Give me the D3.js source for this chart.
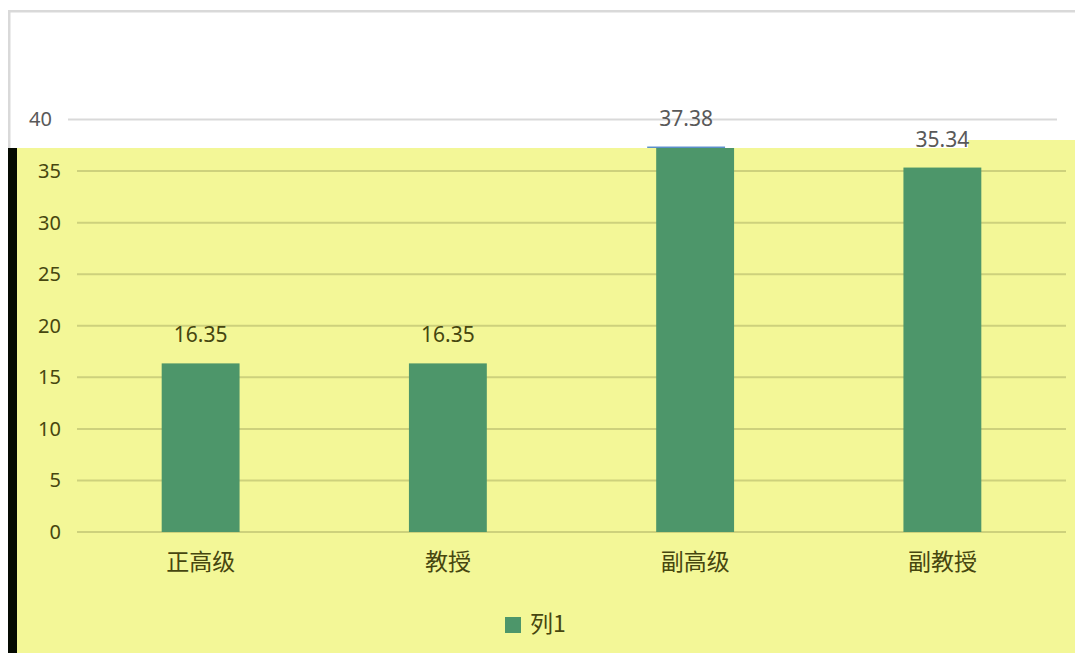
<!DOCTYPE html>
<html>
<head>
<meta charset="utf-8">
<script src="https://cdn.jsdelivr.net/npm/d3@7"></script>
<style>
  html, body { margin: 0; padding: 0; background: #fff; }
  svg { display: block; }
  text { font-family: "Noto Sans", "Noto Sans CJK SC", sans-serif; }
</style>
</head>
<body>
<svg id="chart" width="1075" height="653"></svg>
<script>
"use strict";

var categories = ["正高级", "教授", "副高级", "副教授"],
    values = [16.35, 16.35, 37.38, 35.34],
    yTicks = [0, 5, 10, 15, 20, 25, 30, 35, 40],
    seriesName = "列1",

    width = 1075,
    height = 653,
    plotLeft = 77,
    plotRight = 1066,
    overlayTop = 148,
    shift = -9;

var svg = d3.select("#chart");

var x = d3.scaleBand()
    .domain(categories)
    .range([plotLeft, plotRight])
    .paddingInner(0.685)
    .paddingOuter(0.3425);

var y = d3.scaleLinear()
    .domain([0, 40])
    .range([532, 119.5]);

var labelY = function(d) {
    return y(d) - 21;
};

/*
 Draws one copy of the column chart into g.
 The picture shows two copies: a plain one behind,
 and a yellow one laid on top, a few pixels to the right.
 style.above says whether this copy's texts are the ones
 shown above the yellow edge or below it.
 */
var drawChart = function(g, style) {
    var keep = function(yPos) {
	return style.above ? yPos < overlayTop : yPos >= overlayTop;
    };

    g.append("g")
	.selectAll("line")
	.data(yTicks)
	.join("line")
	.attr("x1", plotLeft)
	.attr("x2", plotRight)
	.attr("y1", function(d) { return y(d); })
	.attr("y2", function(d) { return y(d); })
	.attr("stroke", style.grid)
	.attr("stroke-width", 2);

    var axis = d3.axisLeft(y)
	.tickValues(yTicks.filter(function(d) { return keep(y(d)); }))
	.tickSize(0)
	.tickPadding(16);

    var axisG = g.append("g")
	.attr("transform", "translate(" + plotLeft + ",0)")
	.call(axis);
    axisG.select(".domain").remove();
    axisG.selectAll("text")
	.attr("fill", style.text)
	.style("font-size", "20px")
	.style("font-family", "'Noto Sans', sans-serif");

    g.append("g")
	.selectAll("rect")
	.data(values)
	.join("rect")
	.attr("x", function(d, i) { return x(categories[i]); })
	.attr("width", x.bandwidth())
	.attr("y", function(d) { return y(d); })
	.attr("height", function(d) { return y(0) - y(d); })
	.attr("fill", style.bar);

    g.append("g")
	.selectAll("text")
	.data(values.map(function(v, i) { return {cat: categories[i], value: v}; })
	      .filter(function(d) { return keep(labelY(d.value)); }))
	.join("text")
	.attr("x", function(d) { return x(d.cat) + x.bandwidth() / 2; })
	.attr("y", function(d) { return labelY(d.value); })
	.attr("text-anchor", "middle")
	.attr("fill", style.text)
	.style("font-size", "21px")
	.text(function(d) { return d.value.toFixed(2); });

    if (style.above) {
	return;
    }

    g.append("g")
	.selectAll("text")
	.data(categories)
	.join("text")
	.attr("x", function(d) { return x(d) + x.bandwidth() / 2; })
	.attr("y", 570)
	.attr("text-anchor", "middle")
	.attr("fill", style.text)
	.style("font-size", "23px")
	.style("font-family", "'Noto Sans CJK SC', sans-serif")
	.text(function(d) { return d; });

    var legend = g.append("g")
	.attr("transform", "translate(505,617)");
    legend.append("rect")
	.attr("width", 16)
	.attr("height", 16)
	.attr("fill", style.bar);
    legend.append("text")
	.attr("x", 25)
	.attr("y", 15)
	.attr("fill", style.text)
	.style("font-size", "23px")
	.style("font-family", "'Noto Sans CJK SC', sans-serif")
	.text(seriesName);
};

// plain chart behind
svg.append("rect")
    .attr("x", 9.25)
    .attr("y", 11.25)
    .attr("width", width)
    .attr("height", height)
    .attr("fill", "#fff")
    .attr("stroke", "#d9d9d9")
    .attr("stroke-width", 2.5);

var behind = svg.append("g").attr("transform", "translate(" + shift + ",0)");
drawChart(behind, {
    above: true,
    grid: "#d9d9d9",
    text: "#595959",
    bar: "#5b8fcb"
});

// yellow copy on top
var clipPoints = [[8, overlayTop], [968, overlayTop], [968, 140], [width, 140], [width, height], [8, height]];

svg.append("clipPath")
    .attr("id", "yellow-clip")
    .append("polygon")
    .attr("points", clipPoints.map(function(p) { return p.join(","); }).join(" "));

var overlay = svg.append("g")
    .attr("clip-path", "url(#yellow-clip)");

overlay.append("rect")
    .attr("x", 0)
    .attr("y", 0)
    .attr("width", width)
    .attr("height", height)
    .attr("fill", "#f3f797");

drawChart(overlay.append("g"), {
    above: false,
    grid: "#cdd17c",
    text: "#46460f",
    bar: "#4d966a"
});

overlay.append("rect")
    .attr("x", 8)
    .attr("y", overlayTop)
    .attr("width", 9)
    .attr("height", height - overlayTop)
    .attr("fill", "#050a02");

// the 35.34 label sits on the yellow edge, so it is drawn last
svg.node().appendChild(behind.selectAll("text").filter(function(d) {
    return d && d.value === values[3];
}).node());
</script>
</body>
</html>
